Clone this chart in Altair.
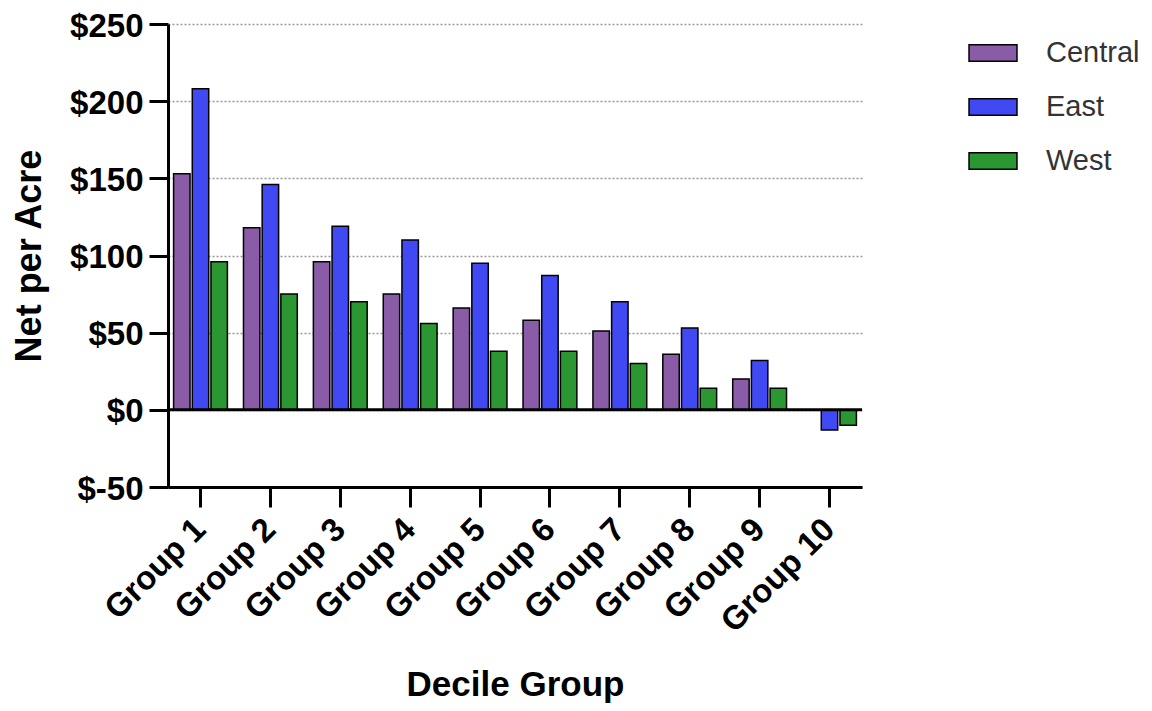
import altair as alt
import pandas as pd

groups = ["Group 1", "Group 2", "Group 3", "Group 4", "Group 5",
          "Group 6", "Group 7", "Group 8", "Group 9", "Group 10"]
series = ["Central", "East", "West"]
central = [153, 118, 96, 75, 66, 58, 51, 36, 20, 0]
east = [208, 146, 119, 110, 95, 87, 70, 53, 32, -13]
west = [96, 75, 70, 56, 38, 38, 30, 14, 14, -10]
colors = ["#8a5ba6", "#4049f2", "#2a9733"]
y_ticks = [-50, 0, 50, 100, 150, 200, 250]

rows = []
for i, g in enumerate(groups):
    for s, vals in zip(series, [central, east, west]):
        rows.append({"group": g, "region": s, "value": vals[i]})
df = pd.DataFrame(rows)

FONT = "Liberation Sans"

bars = alt.Chart(df).mark_bar(stroke="black", strokeWidth=1.5).encode(
    x=alt.X("group:N", sort=groups,
            scale=alt.Scale(paddingInner=0.23, paddingOuter=0.08),
            axis=alt.Axis(title="Decile Group", labelAngle=-45, labelAlign="right",
                          labelBaseline="middle", labelFont=FONT, labelFontSize=33,
                          labelFontWeight="bold", labelColor="black", labelPadding=17,
                          labelOffset=0,
                          domainColor="black", domainWidth=3, tickColor="black",
                          tickWidth=3, tickSize=20, titleFont=FONT, titleFontSize=35,
                          titleFontWeight="bold", titleColor="black",
                          titleBaseline="alphabetic", titleY=208)),
    xOffset=alt.XOffset("region:N", sort=series, scale=alt.Scale(paddingInner=0.12)),
    y=alt.Y("value:Q", scale=alt.Scale(domain=[-50, 250], nice=False),
            axis=alt.Axis(title="Net per Acre", values=y_ticks,
                          labelExpr="'$' + datum.value", labelFont=FONT,
                          labelFontSize=33, labelFontWeight="bold", labelColor="black",
                          labelPadding=6, labelOffset=2, domainColor="black", domainWidth=3,
                          tickColor="black", tickWidth=3, tickSize=19,
                          grid=True, gridColor="#999999", gridDash=[2, 2], gridWidth=1.5,
                          titleFont=FONT, titleFontSize=36, titleFontWeight="bold",
                          titleColor="black", titleX=-139, titleBaseline="middle")),
    fill=alt.Fill("region:N", sort=series,
                  scale=alt.Scale(domain=series, range=colors),
                  legend=alt.Legend(title=None, orient="none", legendX=800, legendY=4,
                                    symbolType="M-1,-0.34L1,-0.34L1,0.34L-1,0.34Z",
                                    symbolSize=2300, symbolStrokeColor="black",
                                    symbolStrokeWidth=1.5, rowPadding=14,
                                    labelFont=FONT, labelFontSize=29,
                                    labelColor="#333333", labelOffset=28)),
)

zero = alt.Chart(pd.DataFrame({"v": [0]})).mark_rule(color="black", strokeWidth=3).encode(
    y="v:Q"
)

chart = alt.layer(bars, zero).properties(
    width=694, height=463,
    autosize=alt.AutoSizeParams(type="none"),
    padding={"left": 160, "top": 16, "right": 282, "bottom": 216},
).configure_view(stroke=None)

chart.save("out.html", embed_options={"renderer": "svg", "actions": False})
